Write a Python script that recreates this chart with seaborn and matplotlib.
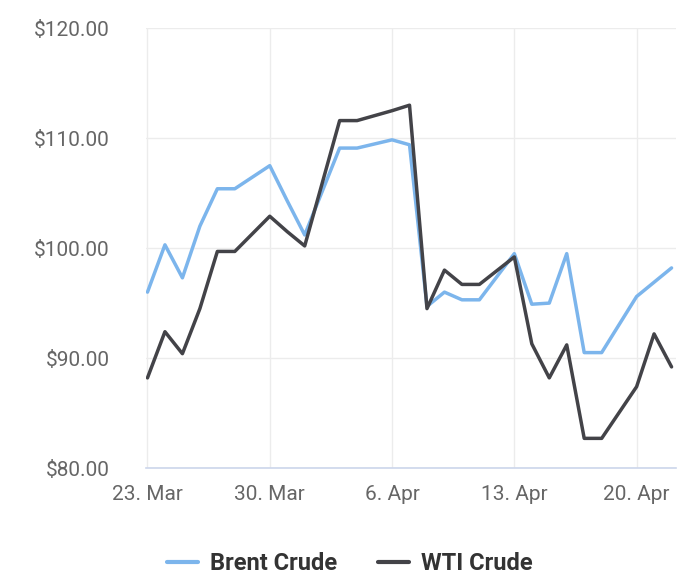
import matplotlib
matplotlib.use('Agg')
import matplotlib.pyplot as plt
import matplotlib.dates as mdates
import matplotlib.ticker as mticker
import numpy as np
import pandas as pd
import seaborn as sns

# data
dates = ['2022-03-23', '2022-03-24', '2022-03-25', '2022-03-26', '2022-03-27', '2022-03-28',
         '2022-03-30', '2022-03-31', '2022-04-01', '2022-04-03', '2022-04-04', '2022-04-06',
         '2022-04-07', '2022-04-08', '2022-04-09', '2022-04-10', '2022-04-11', '2022-04-13',
         '2022-04-14', '2022-04-15', '2022-04-16', '2022-04-17', '2022-04-18', '2022-04-20',
         '2022-04-21', '2022-04-22']
brent = [96.0, 100.3, 97.3, 102.0, 105.4, 105.4, 107.5, 104.3, 101.2, 109.1, 109.1, 109.85,
         109.4, 94.7, 96.0, 95.3, 95.3, 99.5, 94.9, 95.0, 99.5, 90.5, 90.5, 95.6, 96.9, 98.2]
wti = [88.2, 92.4, 90.4, 94.5, 99.7, 99.7, 102.9, 101.5, 100.2, 111.6, 111.6, 112.5,
       113.0, 94.5, 98.0, 96.7, 96.7, 99.2, 91.3, 88.2, 91.2, 82.7, 82.7, 87.4, 92.2, 89.2]
series_names = ['Brent Crude', 'WTI Crude']
tick_dates = ['2022-03-23', '2022-03-30', '2022-04-06', '2022-04-13', '2022-04-20']
y_ticks = [80, 90, 100, 110, 120]

df = pd.DataFrame({'date': pd.to_datetime(dates), series_names[0]: brent, series_names[1]: wti})
long = df.melt(id_vars='date', var_name='series', value_name='price')

sns.set_style('white')
plt.rcParams['font.family'] = ['Roboto', 'DejaVu Sans']

fig = plt.figure(figsize=(7, 5.88), dpi=100)
ax = fig.add_axes([0.2086, 0.204, 0.757, 0.748])

palette = {'Brent Crude': '#7cb5ec', 'WTI Crude': '#434348'}
sns.lineplot(data=long, x='date', y='price', hue='series', palette=palette,
             linewidth=2.5, ax=ax, legend=False)

# axes styling
ax.set_ylim(80, 120)
ax.set_yticks(y_ticks)
ax.yaxis.set_major_formatter(mticker.FuncFormatter(lambda v, p: '${:.2f}'.format(v)))
ax.set_xlim(pd.Timestamp('2022-03-23') - pd.Timedelta(hours=2),
            pd.Timestamp('2022-04-22') + pd.Timedelta(hours=6))
ax.set_xticks(pd.to_datetime(tick_dates))
ax.xaxis.set_major_formatter(mdates.DateFormatter('%-d. %b'))
ax.set_xlabel('')
ax.set_ylabel('')

ax.grid(True, color='#ececec', linewidth=1)
ax.set_axisbelow(True)
for s in ['top', 'right', 'left']:
    ax.spines[s].set_visible(False)
ax.spines['bottom'].set_color('#ccd6eb')
ax.spines['bottom'].set_linewidth(1.2)
ax.tick_params(axis='y', length=0, pad=26, labelsize=15, labelcolor='#666666')
ax.tick_params(axis='x', length=9, width=1, color='#cccccc', pad=3,
               labelsize=15, labelcolor='#666666', direction='out')

# legend under the plot
handles = [plt.Line2D([], [], color=palette[n], linewidth=3) for n in series_names]
leg = fig.legend(handles, series_names, loc='center', bbox_to_anchor=(0.5, 0.042),
                 ncol=2, frameon=False, handlelength=1.3, handletextpad=0.5,
                 columnspacing=1.75, prop={'weight': 'bold', 'size': 17})
for t in leg.get_texts():
    t.set_color('#333333')

fig.savefig('out.png', dpi=100)
